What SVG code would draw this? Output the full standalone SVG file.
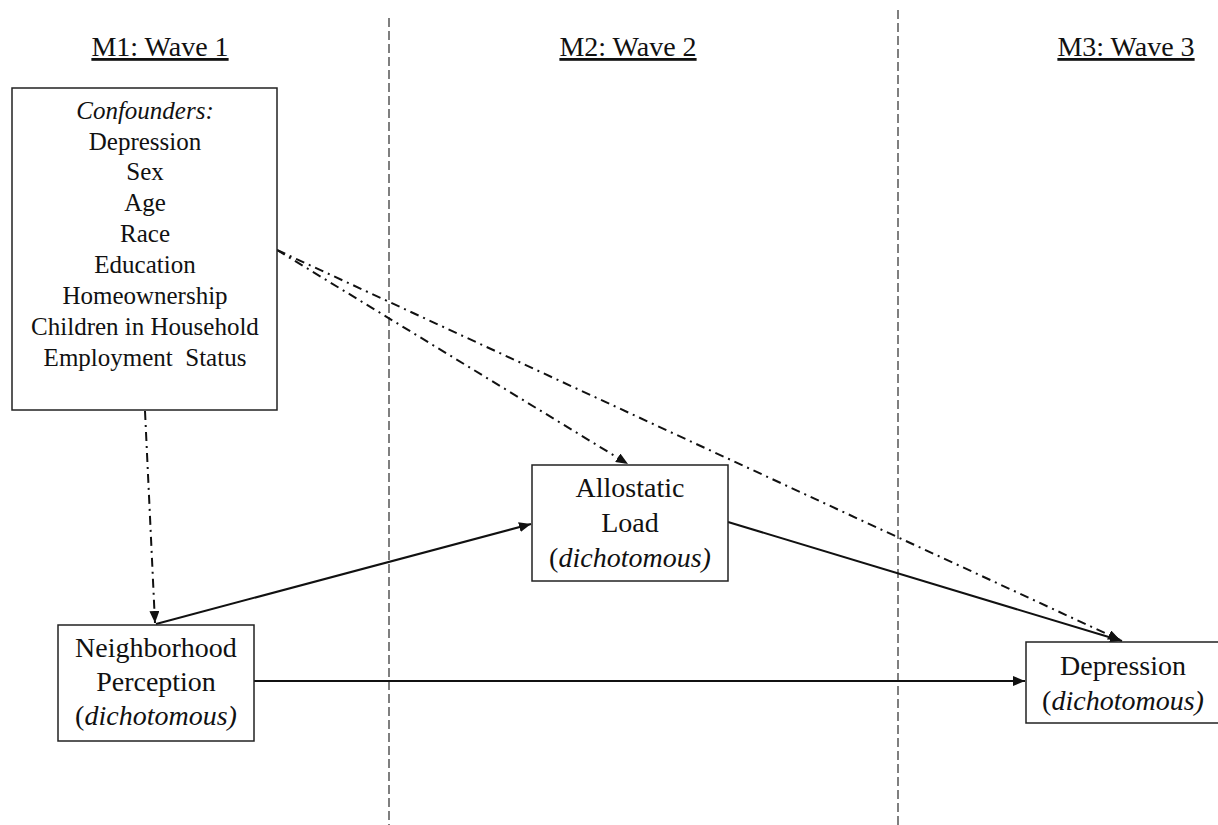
<svg xmlns="http://www.w3.org/2000/svg" width="1218" height="825" viewBox="0 0 1218 825">
<style>
text{font-family:'Liberation Serif','DejaVu Serif','Times New Roman',serif;fill:#111;text-anchor:middle}
.hd{font-size:28px;text-decoration:underline}
.cf{font-size:25px}
.nd{font-size:28px}
.it{font-style:italic}
.box{fill:#fff;stroke:#222;stroke-width:1.5}
.sep{stroke:#555;stroke-width:1.5;stroke-dasharray:9 4;fill:none}
.solid{stroke:#111;stroke-width:2;fill:none}
.dd{stroke:#111;stroke-width:2;fill:none;stroke-dasharray:9 5 2 5}
</style>
<defs>
<marker id="ah" viewBox="0 0 12 10" refX="12" refY="5" markerWidth="12" markerHeight="10" markerUnits="userSpaceOnUse" orient="auto">
<path d="M0,0 L12,5 L0,10 z" fill="#111"/>
</marker>
</defs>
<rect width="1218" height="825" fill="#fff"/>
<g id="separators">
<line class="sep" x1="389" y1="18" x2="389" y2="825"/>
<line class="sep" x1="898" y1="10" x2="898" y2="825"/>
</g>
<g id="headers" font-family="Liberation Serif, serif">
<text class="hd" x="160" y="56">M1: Wave 1</text>
<text class="hd" x="628" y="56">M2: Wave 2</text>
<text class="hd" x="1126" y="56">M3: Wave 3</text>
</g>
<g id="connectors">
<line class="dd" x1="145" y1="411" x2="155" y2="623" marker-end="url(#ah)"/>
<line class="dd" x1="277" y1="250" x2="628" y2="464" marker-end="url(#ah)"/>
<line class="dd" x1="277" y1="250" x2="1120" y2="640" marker-end="url(#ah)"/>
<line class="solid" x1="156" y1="624" x2="531" y2="524" marker-end="url(#ah)"/>
<line class="solid" x1="728" y1="522" x2="1122" y2="641" marker-end="url(#ah)"/>
<line class="solid" x1="254" y1="681" x2="1025" y2="681" marker-end="url(#ah)"/>
</g>
<g id="confounders">
<rect class="box" x="12" y="88" width="265" height="322"/>
<text class="cf it" x="145" y="119">Confounders:</text>
<text class="cf" x="145" y="150">Depression</text>
<text class="cf" x="145" y="180">Sex</text>
<text class="cf" x="145" y="211">Age</text>
<text class="cf" x="145" y="242">Race</text>
<text class="cf" x="145" y="273">Education</text>
<text class="cf" x="145" y="304">Homeownership</text>
<text class="cf" x="145" y="335">Children in Household</text>
<text class="cf" x="145" y="366" xml:space="preserve">Employment  Status</text>
</g>
<g id="neighborhood">
<rect class="box" x="58" y="625" width="196" height="116"/>
<text class="nd" x="156" y="657">Neighborhood</text>
<text class="nd" x="156" y="691">Perception</text>
<text class="nd" x="156" y="725">(<tspan class="it">dichotomous)</tspan></text>
</g>
<g id="allostatic">
<rect class="box" x="532" y="465" width="196" height="116"/>
<text class="nd" x="630" y="497">Allostatic</text>
<text class="nd" x="630" y="532">Load</text>
<text class="nd" x="630" y="567">(<tspan class="it">dichotomous)</tspan></text>
</g>
<g id="depression">
<rect class="box" x="1026" y="642" width="196" height="81"/>
<text class="nd" x="1123" y="675">Depression</text>
<text class="nd" x="1123" y="710">(<tspan class="it">dichotomous)</tspan></text>
</g>
</svg>
